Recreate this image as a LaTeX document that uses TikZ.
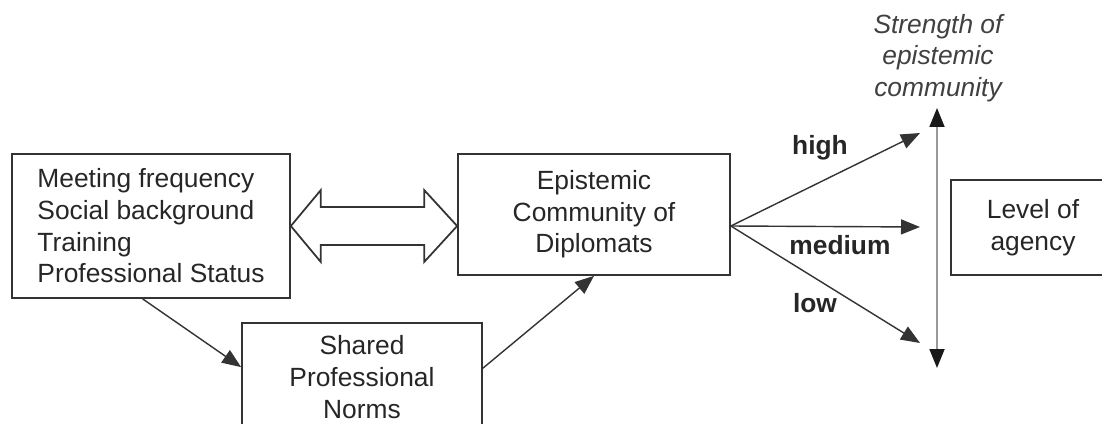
\documentclass[tikz,border=0pt]{standalone}
\usepackage{fontspec}
\setmainfont{Liberation Sans}
\usepackage{tikz}
\usetikzlibrary{arrows.meta, positioning, calc}

\begin{document}
\begin{tikzpicture}[x=0.02cm, y=-0.02cm]
    \tikzstyle{box} = [rectangle, draw=black!80, line width=1pt, text=black!85, font=\fontsize{15}{18}\selectfont, align=center, inner sep=0pt]
    \tikzstyle{tip} = [-{Triangle[length=0.38cm, width=0.3cm]}, line width=0.8pt, draw=black!80]
    \tikzstyle{lab} = [font=\fontsize{15}{18}\selectfont\bfseries, text=black!85]

    \useasboundingbox (0,0) rectangle (1102,423);
    \clip (0,0) rectangle (1102,423);

    % Factors
    \node[box, minimum width=5.56cm, minimum height=2.88cm, align=left] (factors) at (151,226) {Meeting frequency\\Social background\\Training\\Professional Status};

    % Community
    \node[box, minimum width=5.44cm, minimum height=2.42cm] (community) at (594,214.5) {Epistemic\\Community of\\Diplomats};

    % Norms
    \node[box, minimum width=4.8cm, minimum height=2.16cm] (norms) at (362,377) {Shared\\Professional\\Norms};

    % Agency
    \node[box, minimum width=3.28cm, minimum height=1.9cm] (agency) at (1033,227.5) {Level of\\agency};

    % Strength
    \node[font=\fontsize{15}{18}\selectfont\itshape, text=black!75, align=center] (strength) at (938,58) {Strength of\\epistemic\\community};

    % Two-way arrow
    \coordinate (left tip) at (factors.east);
    \coordinate (right tip) at (community.west |- factors.east);
    \draw[line width=1pt, draw=black!80] (left tip) -- ++(30,-36) -- ++(0,17) -- ($(right tip)+(-33,-19)$) -- ++(0,-17) -- (right tip) -- ++(-33,36) -- ++(0,-17) -- ($(left tip)+(30,19)$) -- ++(0,17) -- cycle;

    \draw[tip] ($(factors.south west)!0.47!(factors.south east)$) -- ($(norms.north west)!0.41!(norms.south west)$);
    \draw[tip] ($(norms.north east)!0.42!(norms.south east)$) -- (community.south);

    % Fan
    \coordinate (fan) at (community.east |- factors.east);
    \coordinate (high end) at (920,133);
    \coordinate (medium end) at (920,227);
    \coordinate (low end) at (920,343);
    \draw[tip] (fan) -- (high end);
    \draw[tip] (fan) -- (medium end);
    \draw[tip] (fan) -- (low end);

    \node[lab] (high) at (820,148) {high};
    \node[lab] (medium) at (840,245) {medium};
    \node[lab] (low) at (815,303) {low};

    % Axis
    \coordinate (axis top) at (937,108);
    \coordinate (axis bottom) at (937,368);
    \draw[{Triangle[length=0.38cm, width=0.3cm, color=black!90]}-{Triangle[length=0.38cm, width=0.3cm, color=black!90]}, line width=1pt, draw=black!40] (axis bottom) -- (axis top);
\end{tikzpicture}
\end{document}
